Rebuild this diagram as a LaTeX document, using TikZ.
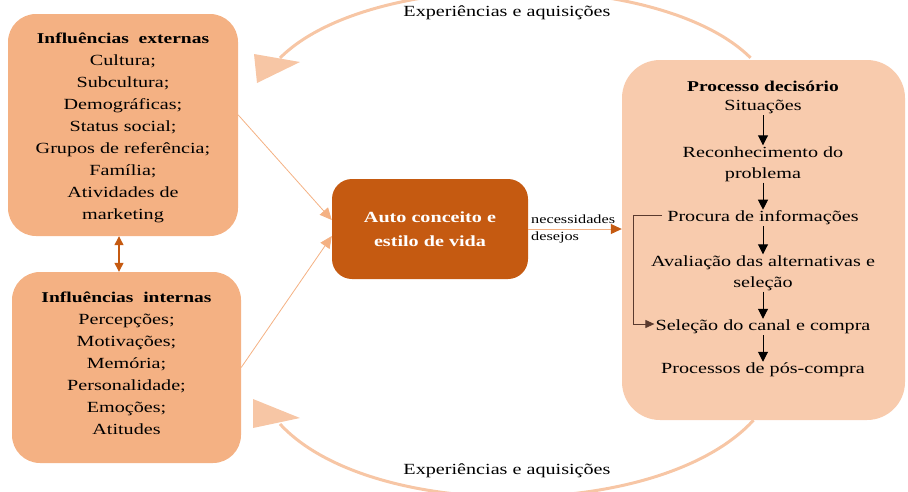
\documentclass[tikz,border=0pt]{standalone}
\usepackage{fontspec}
\setmainfont{Liberation Serif}[FakeStretch=1.3]
\usetikzlibrary{arrows.meta,calc}
\definecolor{lightor}{HTML}{F4B183}
\definecolor{paleor}{HTML}{F8CBAD}
\definecolor{darkor}{HTML}{C55A11}
\definecolor{arcor}{HTML}{F7C6A5}
\definecolor{elbowc}{HTML}{5A3A2E}
\begin{document}
\begin{tikzpicture}[x=1pt,y=-1pt,
  txt/.style={font=\fontsize{15.5}{22}\selectfont, align=center, inner sep=2pt},
  rtxt/.style={font=\fontsize{15.5}{21}\selectfont, align=center, inner sep=1pt},
  hd/.style={font=\fontsize{15}{21}\selectfont\bfseries, align=center, inner sep=2pt},
  small/.style={font=\fontsize{12.5}{15}\selectfont, inner sep=1pt},
  sidebox/.style={fill=lightor, rounded corners=28pt},
  blk/.style={draw=black, line width=1pt, -{Triangle[length=10pt,width=10pt]}},
  feed/.style={draw=lightor, line width=0.8pt, -{Triangle[length=12pt,width=11pt]}},
  arcline/.style={draw=arcor, line width=3pt}
]
\useasboundingbox (0,0) rectangle (908,491);

% big feedback arcs
\coordinate (tend) at (280,58);
\coordinate (bend) at (280,424);
\node[inner sep=0pt, minimum width=283pt, minimum height=360pt] (decg) at (763.5,240) {};
\draw[arcline] ($(decg.north)+(-13,-2)$) .. controls (660,-32) and (370,-32) .. (tend);
\draw[arcline] ($(decg.south)+(-10,0)$) .. controls (660,522) and (370,522) .. (bend);
\fill[arcor] (254,54) -- (300,62) -- (257,83) -- cycle;
\fill[arcor] (253,399) -- (300,418) -- (253,428) -- cycle;

% boxes
\node[sidebox, minimum width=230pt, minimum height=222pt] (ext) at (123,125) {};
\node[sidebox, minimum width=229pt, minimum height=191pt] (int) at (126.5,367.5) {};
\node[fill=darkor, rounded corners=20pt, minimum width=196pt, minimum height=100pt,
      text=white, font=\fontsize{15.5}{24}\selectfont\bfseries, align=center] (cen) at (430,229)
      {Auto conceito e\\estilo de vida};
\node[fill=paleor, rounded corners=38pt, minimum width=283pt, minimum height=360pt] (dec) at (763.5,240) {};

% box texts
\node[txt] (exttext) at (123,128) {{\fontsize{15}{22}\selectfont\bfseries Influências\ \ externas}\\Cultura;\\Subcultura;\\Demográficas;\\Status social;\\Grupos de referência;\\Família;\\Atividades de\\marketing};
\node[txt] (inttext) at (126.5,363) {{\fontsize{15}{22}\selectfont\bfseries Influências\ \ internas}\\Percepções;\\Motivações;\\Memória;\\Personalidade;\\Emoções;\\Atitudes};

\node[txt] (expt) at (507,13) {Experiências e aquisições};
\node[txt] (expb) at (507,471) {Experiências e aquisições};

% decision process
\node[hd] (h) at (763,86) {Processo decisório};
\node[rtxt] (s1) at (763,107) {Situações};
\node[rtxt] (s2) at (763,164) {Reconhecimento do\\problema};
\node[rtxt] (s3) at (763,218) {Procura de informações};
\node[rtxt] (s4) at (763,273) {Avaliação das alternativas e\\seleção};
\node[rtxt] (s5) at (763,327) {Seleção do canal e compra};
\node[rtxt] (s6) at (763,370) {Processos de pós-compra};
\draw[blk] (s1) -- (s2);
\draw[blk] (s2) -- (s3);
\draw[blk] (s3) -- (s4);
\draw[blk] (s4) -- (s5);
\draw[blk] (s5) -- (s6);
\coordinate (elb) at (633,0);
\draw[draw=elbowc, line width=1pt, -{Triangle[length=9pt,width=8pt]}] ($(s3.west)+(-4,-3)$) -- ($(s3.west -| elb)+(0,-3)$) |- ($(s5.west)+(0,-3)$);

% connectors
\coordinate (dbl) at (119,0);
\draw[darkor, line width=1.2pt, {Triangle[length=9pt,width=9pt]}-{Triangle[length=9pt,width=9pt]}] (ext.south -| dbl) -- (int.north -| dbl);
\draw[feed] (ext.5) -- ($(cen.west)+(0,-9)$);
\draw[feed] (int.east) -- ($(cen.west)+(0,7)$);
\draw[draw=lightor, line width=1pt, -{Triangle[length=11pt,width=10pt,color=darkor]}] (cen.east) -- (cen.east -| dec.west);
\node[small, anchor=west] (nec) at (530,219) {necessidades};
\node[small, anchor=west] (des) at (530,237) {desejos};
\end{tikzpicture}
\end{document}
